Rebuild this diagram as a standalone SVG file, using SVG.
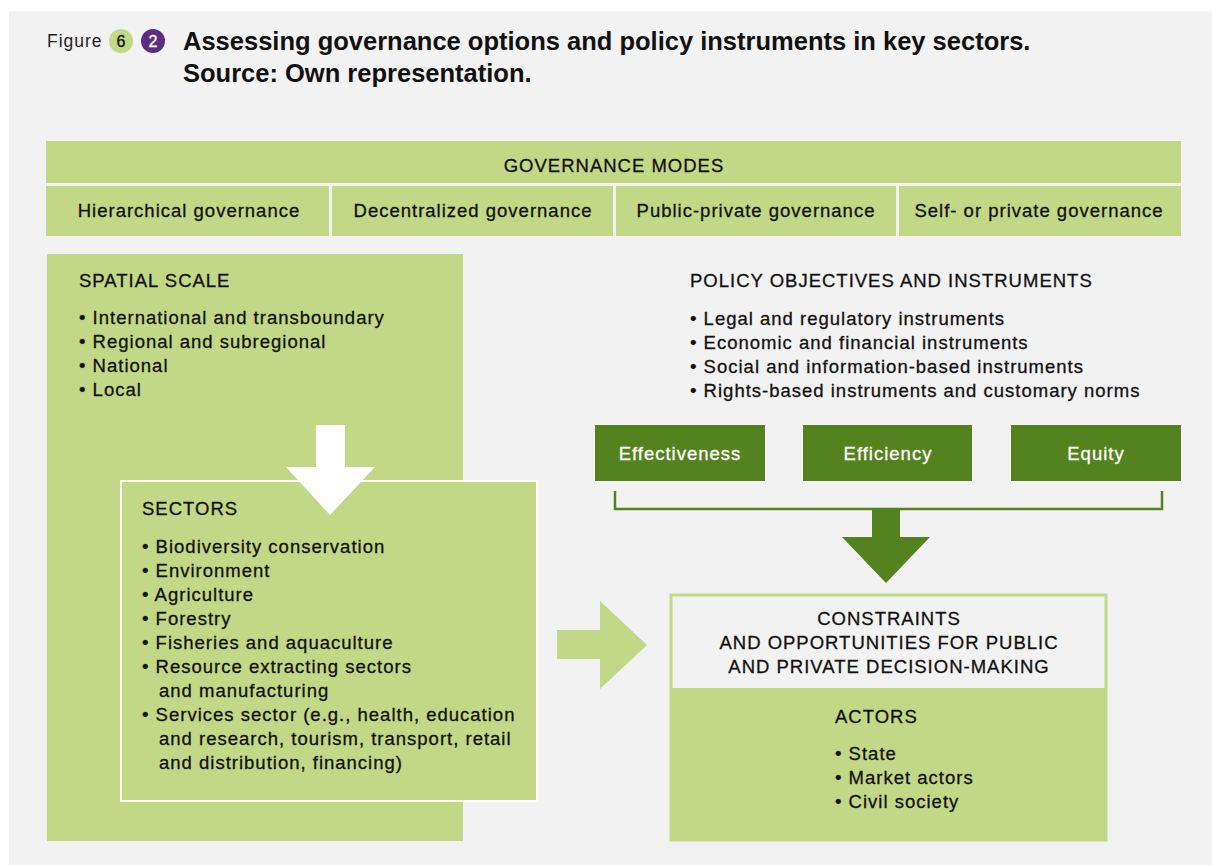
<svg xmlns="http://www.w3.org/2000/svg" width="1212" height="865" viewBox="0 0 1212 865">
<style>
text{font-family:"Liberation Sans",Arial,sans-serif;fill:#111;stroke:#111;stroke-width:0.3}
.t{font-size:18.5px;letter-spacing:1px}
.c{text-anchor:middle}
.w{fill:#fff;stroke:#fff}
.lg{fill:#c2d887}
.dg{fill:#54821f}
</style>
<rect x="0" y="0" width="1212" height="865" fill="#fff"/>
<rect x="9" y="11" width="1203" height="854" fill="#f2f2f2"/>
<g id="title">
<text x="47" y="47" style="font-size:17.5px;letter-spacing:1px;fill:#222;stroke:none">Figure</text>
<circle cx="121" cy="41" r="12" class="lg"/>
<text x="121" y="47" class="c" style="font-size:16px">6</text>
<circle cx="153" cy="41" r="12" fill="#5c2e82"/>
<text x="153" y="47" class="c w" style="font-size:16px">2</text>
<text x="183" y="50" style="font-size:25.5px;font-weight:bold;stroke:none">Assessing governance options and policy instruments in key sectors.</text>
<text x="183" y="82" style="font-size:25.5px;font-weight:bold;stroke:none">Source: Own representation.</text>
</g>
<g id="governance-modes">
<rect x="46" y="141" width="1135" height="42" class="lg"/>
<text x="614" y="172" class="t c">GOVERNANCE MODES</text>
<rect x="46" y="186" width="283" height="50" class="lg"/>
<rect x="332" y="186" width="281" height="50" class="lg"/>
<rect x="616" y="186" width="280" height="50" class="lg"/>
<rect x="899" y="186" width="282" height="50" class="lg"/>
<text x="189" y="217" class="t c">Hierarchical governance</text>
<text x="473" y="217" class="t c">Decentralized governance</text>
<text x="756" y="217" class="t c">Public-private governance</text>
<text x="1039" y="217" class="t c">Self- or private governance</text>
</g>
<g id="spatial-scale">
<rect x="47" y="254" width="416" height="587" class="lg"/>
<text x="79" y="287" class="t">SPATIAL SCALE</text>
<text x="79" y="324" class="t">• International and transboundary</text>
<text x="79" y="348" class="t">• Regional and subregional</text>
<text x="79" y="372" class="t">• National</text>
<text x="79" y="396" class="t">• Local</text>
</g>
<g id="sectors">
<rect x="121" y="481" width="416" height="320" class="lg" stroke="#fff" stroke-width="2"/>
<text x="142" y="515" class="t">SECTORS</text>
<text x="142" y="553" class="t">• Biodiversity conservation</text>
<text x="142" y="577" class="t">• Environment</text>
<text x="142" y="601" class="t">• Agriculture</text>
<text x="142" y="625" class="t">• Forestry</text>
<text x="142" y="649" class="t">• Fisheries and aquaculture</text>
<text x="142" y="673" class="t">• Resource extracting sectors</text>
<text x="159" y="697" class="t">and manufacturing</text>
<text x="142" y="721" class="t">• Services sector (e.g., health, education</text>
<text x="159" y="745" class="t">and research, tourism, transport, retail</text>
<text x="159" y="769" class="t">and distribution, financing)</text>
</g>
<g id="policy">
<text x="690" y="287" class="t">POLICY OBJECTIVES AND INSTRUMENTS</text>
<text x="690" y="325" class="t">• Legal and regulatory instruments</text>
<text x="690" y="349" class="t">• Economic and financial instruments</text>
<text x="690" y="373" class="t">• Social and information-based instruments</text>
<text x="690" y="397" class="t">• Rights-based instruments and customary norms</text>
</g>
<g id="effectiveness">
<rect x="595" y="425" width="170" height="56" class="dg"/>
<text x="680" y="460" class="t c w">Effectiveness</text>
</g>
<g id="efficiency">
<rect x="803" y="425" width="169" height="56" class="dg"/>
<text x="888" y="460" class="t c w">Efficiency</text>
</g>
<g id="equity">
<rect x="1011" y="425" width="170" height="56" class="dg"/>
<text x="1096" y="460" class="t c w">Equity</text>
</g>
<g id="constraints">
<rect x="671" y="595" width="435" height="245" fill="#f2f2f2" stroke="#c2d887" stroke-width="3"/>
<rect x="670" y="688" width="437" height="153" class="lg"/>
<text x="889" y="625" class="t c">CONSTRAINTS</text>
<text x="889" y="649" class="t c">AND OPPORTUNITIES FOR PUBLIC</text>
<text x="889" y="673" class="t c">AND PRIVATE DECISION-MAKING</text>
<text x="835" y="723" class="t">ACTORS</text>
<text x="835" y="760" class="t">• State</text>
<text x="835" y="784" class="t">• Market actors</text>
<text x="835" y="808" class="t">• Civil society</text>
</g>
<g id="connectors">
<polygon points="316,425 345,425 345,467 375,467 330,515 286,467 316,467" fill="#fff"/>
<polyline points="615,491 615,509 1162,509 1162,491" fill="none" stroke="#54821f" stroke-width="2.5"/>
<polygon points="872,509 900,509 900,537 930,537 886,583 842,537 872,537" class="dg"/>
<polygon points="557,630 600,630 600,601 647,645 600,689 600,659 557,659" class="lg"/>
</g>
</svg>
